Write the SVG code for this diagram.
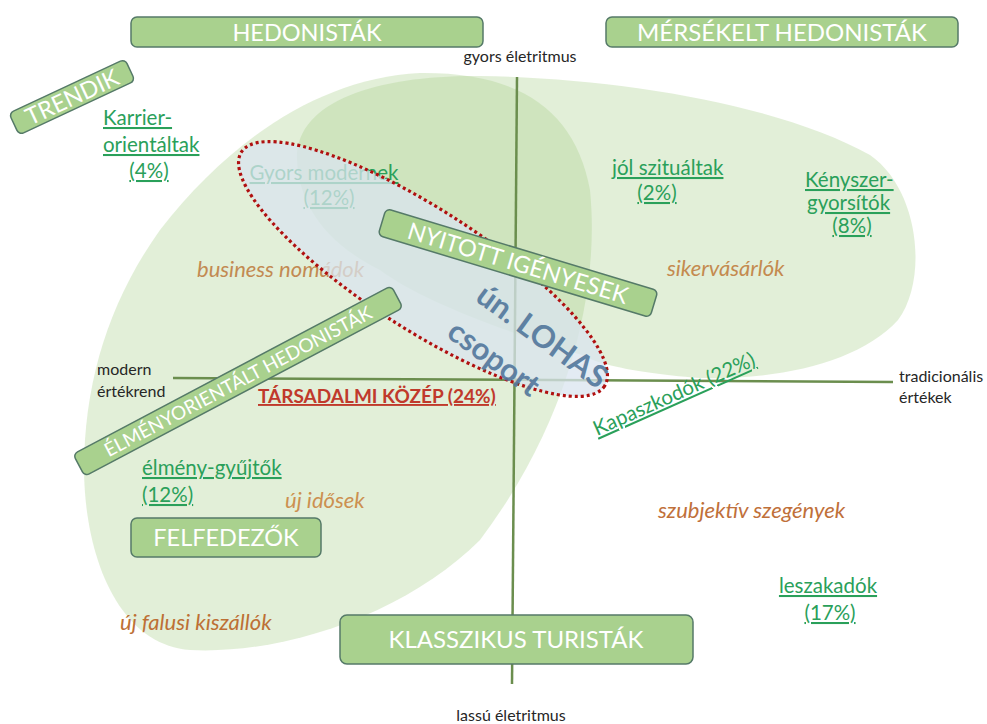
<svg xmlns="http://www.w3.org/2000/svg" width="987" height="724" viewBox="0 0 987 724">
<style>
text{font-family:Lato,"Liberation Sans",sans-serif}
.blob{fill:#a9d18e;fill-opacity:0.34}
.axis{stroke:#6b8e4e;stroke-width:2.5;fill:none}
.box{fill:#a9d18e;stroke:#557a68;stroke-width:1.5}
.bt{fill:#ffffff;text-anchor:middle}
.gl{fill:#2aa05a;font-size:20.5px;text-decoration:underline}
.it{font-style:italic;font-size:22px}
.ax{fill:#262626;font-size:16px}
</style>
<rect width="987" height="724" fill="#ffffff"/>
<g id="shapes">
<path class="blob" d="M420,73 C520,72 575,110 590,190 C600,290 570,420 480,540 C410,610 290,655 190,650 C120,645 85,560 84,470 C84,380 110,300 160,230 C230,140 320,78 420,73 Z"/>
<path class="blob" d="M297,160 C295,100 380,75 480,76 C620,78 780,105 870,155 C920,190 928,280 898,320 C860,362 780,380 700,378 C620,372 590,360 585,356 C500,330 420,300 380,270 C320,240 299,200 297,160 Z"/>
</g>
<g id="axes">
<line class="axis" x1="517" y1="77" x2="512" y2="684"/>
<line class="axis" x1="173" y1="378" x2="893" y2="382"/>
</g>
<g id="axis-labels" class="ax">
<text x="520" y="62" text-anchor="middle">gyors életritmus</text>
<text x="511" y="721" text-anchor="middle">lassú életritmus</text>
<text x="97" y="375">modern</text>
<text x="97" y="397">értékrend</text>
<text x="899" y="382">tradicionális</text>
<text x="899" y="403">értékek</text>
</g>
<g id="labels">
<text class="gl" x="103" y="125">Karrier-</text>
<text class="gl" x="103" y="152">orientáltak</text>
<text class="gl" x="149" y="178" text-anchor="middle">(4%)</text>
<text class="gl" x="324" y="180" text-anchor="middle">Gyors modernek</text>
<text class="gl" x="329" y="205" text-anchor="middle">(12%)</text>
<text class="gl" x="612" y="175">jól szituáltak</text>
<text class="gl" x="657" y="200" text-anchor="middle">(2%)</text>
<text class="gl" x="805" y="187">Kényszer-</text>
<text class="gl" x="807" y="210">gyorsítók</text>
<text class="gl" x="852" y="233" text-anchor="middle">(8%)</text>
<text class="gl" transform="translate(597,436) rotate(-24)">Kapaszkodók (22%)</text>
<text class="gl" x="142" y="475">élmény-gyűjtők</text>
<text class="gl" x="142" y="502">(12%)</text>
<text class="gl" x="828" y="593" text-anchor="middle">leszakadók</text>
<text class="gl" x="830" y="620" text-anchor="middle">(17%)</text>
<text x="258" y="403" fill="#c0392b" font-size="19" font-weight="bold" text-decoration="underline">TÁRSADALMI KÖZÉP (24%)</text>
<text class="it" x="197" y="277" fill="#c28a52">business nomádok</text>
<text class="it" x="667" y="276" fill="#c48a4f">sikervásárlók</text>
<text class="it" x="285" y="508" fill="#cc9050">új idősek</text>
<text class="it" x="658" y="518" fill="#c0703a">szubjektív szegények</text>
<text class="it" x="120" y="630" fill="#bd7035">új falusi kiszállók</text>
</g>
<g id="lohas">
<ellipse cx="423" cy="269" rx="216" ry="60" transform="rotate(32.8 423 269)" fill="#d9e4ef" fill-opacity="0.75" stroke="#b01010" stroke-width="3.2" stroke-dasharray="3 3"/>
</g>
<g id="hedonistak"><rect class="box" x="131" y="17" width="352" height="30" rx="6"/><text class="bt" x="307" y="41" font-size="23.5">HEDONISTÁK</text></g>
<g id="merseklet"><rect class="box" x="606" y="17" width="352" height="30" rx="6"/><text class="bt" x="782" y="41" font-size="24">MÉRSÉKELT HEDONISTÁK</text></g>
<g id="trendik" transform="translate(72,97) rotate(-25)"><rect class="box" x="-64" y="-12" width="128" height="24" rx="5"/><text class="bt" x="0" y="8.5" font-size="23.5">TRENDIK</text></g>
<g id="nyitott" transform="translate(518,263) rotate(16.8)"><rect class="box" x="-142" y="-14" width="284" height="28" rx="5"/><text class="bt" x="0" y="8.5" font-size="23.5">NYITOTT IGÉNYESEK</text></g>
<g id="elmeny" transform="translate(238,381) rotate(-27.9)"><rect class="box" x="-180" y="-12.5" width="360" height="25" rx="5"/><text class="bt" x="0" y="7" font-size="19">ÉLMÉNYORIENTÁLT HEDONISTÁK</text></g>
<g id="felfedezok"><rect class="box" x="131" y="518" width="190" height="39" rx="6"/><text class="bt" x="226" y="546" font-size="23.5">FELFEDEZŐK</text></g>
<g id="klasszikus"><rect class="box" x="340" y="615" width="353" height="49" rx="7"/><text class="bt" x="516" y="648" font-size="24">KLASSZIKUS TURISTÁK</text></g>
<g id="lohas-text" fill="#52779c" font-size="31" font-weight="bold" opacity="0.9" transform="translate(474,300) rotate(36)">
<text x="0" y="0">ún. LOHAS</text>
<text x="-2" y="46">csoport</text>
</g>
</svg>
